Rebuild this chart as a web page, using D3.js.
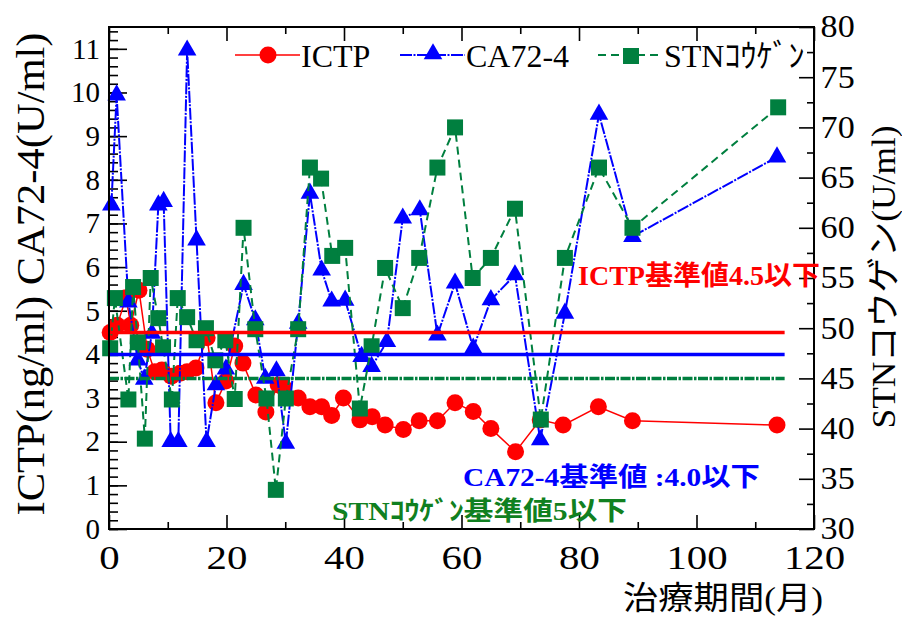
<!DOCTYPE html>
<html>
<head>
<meta charset="utf-8">
<script src="https://cdn.jsdelivr.net/npm/d3@7"></script>
<style>
  body { margin: 0; background: #fff; }
  text { font-family: "Liberation Serif", "Noto Sans CJK JP", serif; }
</style>
</head>
<body>
<div id="chart"></div>
<script>
// months of treatment and values
var ictpMonths = [0.2, 1.4, 2.9, 3.7, 5.1, 6.5, 7.8, 9.0, 10.6, 12.1, 13.3, 14.8, 16.7, 18.2, 19.9, 21.4, 22.8, 25.0, 26.7, 28.8, 29.7, 32.2, 34.2, 36.2, 37.9, 39.9, 42.7, 44.8, 47.0, 50.1, 52.8, 55.9, 58.9, 62.0, 65.0, 69.2, 73.4, 77.3, 83.3, 89.1, 113.7];
var ictpValues = [4.5, 4.67, 5.3, 4.67, 5.47, 4.12, 3.6, 3.64, 3.5, 3.57, 3.6, 3.69, 4.38, 2.89, 3.39, 4.19, 3.8, 3.07, 2.68, 3.3, 3.25, 3.0, 2.8, 2.8, 2.6, 3.0, 2.5, 2.57, 2.38, 2.28, 2.48, 2.48, 2.89, 2.69, 2.3, 1.77, 2.5, 2.38, 2.8, 2.48, 2.38];

var caMonths = [0.4, 1.3, 3.3, 4.9, 6.0, 7.3, 8.4, 9.3, 10.5, 11.8, 13.3, 14.9, 16.6, 18.2, 19.9, 22.9, 24.9, 26.6, 28.5, 30.1, 32.2, 34.2, 36.2, 37.9, 40.2, 43.0, 44.7, 47.3, 50.0, 52.9, 55.9, 58.9, 62.0, 65.0, 69.1, 73.4, 77.6, 83.4, 89.1, 113.7];
var caValues = [7.42, 9.94, 5.2, 3.87, 3.43, 4.48, 7.42, 7.5, 2.0, 2.0, 10.97, 6.62, 2.0, 3.3, 3.66, 5.6, 4.79, 3.45, 3.62, 1.96, 4.71, 7.69, 5.93, 5.22, 5.24, 3.95, 3.72, 4.29, 7.12, 7.31, 4.44, 5.63, 4.14, 5.25, 5.82, 2.04, 4.94, 9.5, 6.7, 8.52];

var stnMonths = [0.2, 1.0, 3.3, 4.1, 4.9, 6.1, 7.1, 8.4, 9.2, 10.7, 11.7, 13.3, 14.9, 16.5, 18.1, 19.8, 21.4, 22.9, 24.9, 26.8, 28.4, 30.1, 32.2, 34.2, 36.1, 38.0, 40.2, 42.7, 44.7, 47.0, 50.0, 52.8, 55.9, 58.9, 61.9, 65.0, 69.1, 73.5, 77.6, 83.4, 89.1, 113.9];
var stnValues = [48.0, 53.0, 42.9, 54.1, 48.6, 39.0, 55.0, 51.0, 48.1, 42.9, 53.0, 51.1, 48.8, 50.0, 46.8, 48.8, 42.95, 60.0, 49.9, 43.0, 33.9, 43.0, 49.9, 66.0, 64.9, 57.2, 58.0, 42.0, 48.2, 56.0, 52.0, 57.0, 66.0, 70.0, 55.0, 57.0, 61.9, 40.9, 57.0, 66.0, 60.0, 72.0];

// reference (upper normal limit) lines
var refMonths = [0, 115];
var refIctp = 4.5;
var refCa = 4.0;
var refStn = 45;

var xTicks = [0, 20, 40, 60, 80, 100, 120];
var xMinorTicks = [10, 30, 50, 70, 90, 110];
var leftTicks = [0, 1, 2, 3, 4, 5, 6, 7, 8, 9, 10, 11];
var rightTicks = [30, 35, 40, 45, 50, 55, 60, 65, 70, 75, 80];

var legendNames = ["ICTP", "CA72-4", "STNｺｳｹﾞﾝ"];

makeGraph();

function makeGraph() {
    var svgWidth = 902;
    var svgHeight = 619;

    var margin = { top: 27, right: 88, bottom: 90, left: 109 };
    var chartWidth = svgWidth - margin.left - margin.right;   // 705
    var chartHeight = svgHeight - margin.top - margin.bottom; // 502

    var red = "#ff0000", blue = "#0000ff", green = "#007f3f";

    var svg = d3.select("#chart")
        .append("svg")
        .attr("width", svgWidth)
        .attr("height", svgHeight);

    var chartGroup = svg.append("g")
        .attr("transform", `translate(${margin.left}, ${margin.top})`);

    var xScale = d3.scaleLinear().domain([0, 120]).range([0, chartWidth]);
    var yLeft = d3.scaleLinear().domain([0, 11.5]).range([chartHeight, 0]);
    var yRight = d3.scaleLinear().domain([30, 80]).range([chartHeight, 0]);

    // ---- axes (ticks point inward) ----
    var leftMinor = d3.range(0, 11.5, 0.2);
    chartGroup.append("g")
        .call(d3.axisLeft(yLeft).tickValues(leftMinor).tickSizeInner(-9).tickSizeOuter(0).tickFormat(""));
    chartGroup.append("g")
        .attr("class", "leftAxis")
        .call(d3.axisLeft(yLeft).tickValues(leftTicks).tickSizeInner(-18).tickSizeOuter(0).tickPadding(9));

    var rightMinor = d3.range(32.5, 80, 5);
    chartGroup.append("g")
        .attr("transform", `translate(${chartWidth}, 0)`)
        .call(d3.axisRight(yRight).tickValues(rightMinor).tickSizeInner(-7).tickSizeOuter(0).tickFormat(""));
    chartGroup.append("g")
        .attr("class", "rightAxis")
        .attr("transform", `translate(${chartWidth}, 0)`)
        .call(d3.axisRight(yRight).tickValues(rightTicks).tickSizeInner(-15).tickSizeOuter(0).tickPadding(6));

    chartGroup.append("g")
        .attr("transform", `translate(0, ${chartHeight})`)
        .call(d3.axisBottom(xScale).tickValues(xMinorTicks).tickSizeInner(-7).tickSizeOuter(0).tickFormat(""));
    chartGroup.append("g")
        .attr("class", "bottomAxis")
        .attr("transform", `translate(0, ${chartHeight})`)
        .call(d3.axisBottom(xScale).tickValues(xTicks).tickSizeInner(-14).tickSizeOuter(0));

    chartGroup.append("g")
        .call(d3.axisTop(xScale).tickValues(xMinorTicks).tickSizeInner(-7).tickSizeOuter(0).tickFormat(""));
    chartGroup.append("g")
        .call(d3.axisTop(xScale).tickValues(xTicks).tickSizeInner(-14).tickSizeOuter(0).tickFormat(""));

    chartGroup.selectAll(".domain").remove();
    chartGroup.selectAll(".tick line").attr("stroke", "#000").attr("stroke-width", 1.6);

    chartGroup.selectAll(".leftAxis text")
        .attr("font-size", 29)
        .attr("font-family", "Liberation Serif")
        .attr("fill", "#000");
    chartGroup.selectAll(".rightAxis text")
        .attr("font-size", 31)
        .attr("font-family", "Liberation Serif")
        .attr("fill", "#000")
        .attr("transform", "scale(1.1,1)");
    chartGroup.selectAll(".bottomAxis text")
        .attr("font-size", 34)
        .attr("font-family", "Liberation Serif")
        .attr("fill", "#000")
        .attr("y", 40)
        .attr("dy", null)
        .attr("transform", "scale(1.2,1)");

    // ---- series ----
    var ictpData = ictpMonths.map((m, i) => ({ m: m, v: ictpValues[i] }));
    var caData = caMonths.map((m, i) => ({ m: m, v: caValues[i] }));
    var stnData = stnMonths.map((m, i) => ({ m: m, v: stnValues[i] }));

    var lineLeft = d3.line().x(d => xScale(d.m)).y(d => yLeft(d.v));
    var lineRight = d3.line().x(d => xScale(d.m)).y(d => yRight(d.v));

    var triangle = d3.symbol().type(d3.symbolTriangle).size(150);
    var square = d3.symbol().type(d3.symbolSquare).size(256);

    chartGroup.append("path")
        .datum(ictpData)
        .attr("d", lineLeft)
        .attr("fill", "none")
        .attr("stroke", red)
        .attr("stroke-width", 1.5);
    chartGroup.append("g")
        .selectAll("circle")
        .data(ictpData)
        .enter()
        .append("circle")
        .attr("cx", d => xScale(d.m))
        .attr("cy", d => yLeft(d.v))
        .attr("r", 8.5)
        .attr("fill", red);

    chartGroup.append("path")
        .datum(caData)
        .attr("d", lineLeft)
        .attr("fill", "none")
        .attr("stroke", blue)
        .attr("stroke-width", 2)
        .attr("stroke-dasharray", "12,1.5,2,1.5");
    chartGroup.append("g")
        .selectAll("path")
        .data(caData)
        .enter()
        .append("path")
        .attr("d", triangle)
        .attr("transform", d => `translate(${xScale(d.m)}, ${yLeft(d.v)})`)
        .attr("fill", blue);

    chartGroup.append("path")
        .datum(stnData)
        .attr("d", lineRight)
        .attr("fill", "none")
        .attr("stroke", green)
        .attr("stroke-width", 2)
        .attr("stroke-dasharray", "8,5");
    chartGroup.append("g")
        .selectAll("path")
        .data(stnData)
        .enter()
        .append("path")
        .attr("d", square)
        .attr("transform", d => `translate(${xScale(d.m)}, ${yRight(d.v)})`)
        .attr("fill", green);

    // ---- reference lines ----
    var refs = [
        { y: yLeft(refIctp), color: red, width: 3.5, dash: null },
        { y: yLeft(refCa), color: blue, width: 3.5, dash: null },
        { y: yRight(refStn), color: green, width: 3.5, dash: "10,1.5,2.5,1.5" }
    ];
    chartGroup.append("g")
        .selectAll("line")
        .data(refs)
        .enter()
        .append("line")
        .attr("x1", xScale(refMonths[0]))
        .attr("x2", xScale(refMonths[1]))
        .attr("y1", d => d.y)
        .attr("y2", d => d.y)
        .attr("stroke", d => d.color)
        .attr("stroke-width", d => d.width)
        .attr("stroke-dasharray", d => d.dash);

    // frame
    chartGroup.append("rect")
        .attr("width", chartWidth)
        .attr("height", chartHeight)
        .attr("fill", "none")
        .attr("stroke", "#000")
        .attr("stroke-width", 2);

    // ---- legend ----
    var legend = svg.append("g");
    var legendX = [235, 400, 598];
    var legendColors = [red, blue, green];
    var legendDash = [null, "12,1.5,2,1.5", "8,5"];
    var legendY = 55;
    legendNames.forEach(function(name, i) {
        legend.append("line")
            .attr("x1", legendX[i]).attr("x2", legendX[i] + 65)
            .attr("y1", legendY).attr("y2", legendY)
            .attr("stroke", legendColors[i])
            .attr("stroke-width", i == 0 ? 1.5 : 2)
            .attr("stroke-dasharray", legendDash[i]);
        var cx = legendX[i] + 33;
        if (i == 0) {
            legend.append("circle").attr("cx", cx).attr("cy", legendY).attr("r", 8.5).attr("fill", red);
        } else if (i == 1) {
            legend.append("path").attr("d", triangle).attr("transform", `translate(${cx}, ${legendY - 1})`).attr("fill", blue);
        } else {
            legend.append("path").attr("d", square).attr("transform", `translate(${cx}, ${legendY + 1})`).attr("fill", green);
        }
        legend.append("text")
            .attr("x", legendX[i] + 66)
            .attr("y", legendY + 12)
            .attr("font-size", 32)
            .attr("fill", "#000")
            .text(name);
    });

    // ---- axis titles ----
    svg.append("text")
        .attr("transform", "translate(44, 274) rotate(-90)")
        .attr("text-anchor", "middle")
        .attr("font-size", 40)
        .attr("textLength", 483)
        .attr("lengthAdjust", "spacingAndGlyphs")
        .text("ICTP(ng/ml) CA72-4(U/ml)");

    svg.append("text")
        .attr("transform", "translate(895, 277) rotate(-90)")
        .attr("text-anchor", "middle")
        .attr("font-size", 33)
        .attr("textLength", 303)
        .attr("lengthAdjust", "spacingAndGlyphs")
        .text("STNコウゲン(U/ml)");

    svg.append("text")
        .attr("x", 623)
        .attr("y", 609)
        .attr("font-size", 32)
        .attr("textLength", 200)
        .attr("lengthAdjust", "spacingAndGlyphs")
        .text("治療期間(月)");

    // ---- reference notes ----
    svg.append("text")
        .attr("x", 578).attr("y", 285)
        .attr("font-size", 27).attr("font-weight", "bold")
        .attr("fill", red)
        .attr("textLength", 242).attr("lengthAdjust", "spacingAndGlyphs")
        .text("ICTP基準値4.5以下");
    svg.append("text")
        .attr("x", 463).attr("y", 486)
        .attr("font-size", 26).attr("font-weight", "bold")
        .attr("fill", blue)
        .attr("textLength", 297).attr("lengthAdjust", "spacingAndGlyphs")
        .text("CA72-4基準値 :4.0以下");
    svg.append("text")
        .attr("x", 332).attr("y", 520)
        .attr("font-size", 26).attr("font-weight", "bold")
        .attr("fill", "#108020")
        .attr("textLength", 295).attr("lengthAdjust", "spacingAndGlyphs")
        .text("STNｺｳｹﾞﾝ基準値5以下");
}
</script>
</body>
</html>
